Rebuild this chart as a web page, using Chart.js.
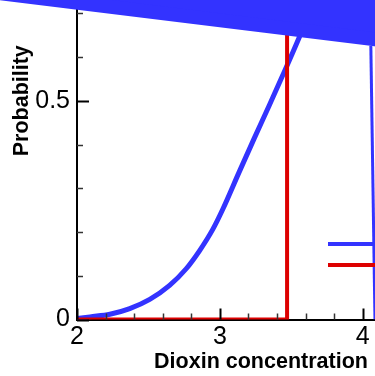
<!DOCTYPE html>
<html>
<head>
<meta charset="utf-8">
<script src="https://cdn.jsdelivr.net/npm/chart.js@4/dist/chart.umd.min.js"></script>
<style>
  html, body { margin: 0; padding: 0; background: #fff; overflow: hidden; width: 375px; height: 376px; }
  #wrap { position: absolute; left: 0; top: -140px; width: 460px; height: 516px; }
</style>
</head>
<body>
<div id="wrap"><canvas id="c" width="460" height="516"></canvas></div>
<script>
// Axis ticks and labels
const xMajorTicks = [2, 3, 4];
const xTickLabels = ['2', '3', '4'];
const xMinorStep = 0.2;
const yMajorTicks = [0, 0.5, 1];
const yTickLabels = ['0', '0.5', '1'];
const yMinorStep = 0.1;

// Cumulative probability of the dioxin concentration
const concentration = [2.0, 2.091, 2.230, 2.369, 2.509, 2.648, 2.764, 2.857, 2.950, 3.020, 3.136, 3.240, 3.345, 3.438, 3.554, 3.70, 3.90, 4.10, 4.35];
const probability   = [0.002, 0.006, 0.012, 0.025, 0.046, 0.078, 0.116, 0.157, 0.206, 0.252, 0.338, 0.414, 0.489, 0.557, 0.644, 0.76, 0.89, 0.96, 0.995];

// Threshold step
const thresholdX = [2, 3.47, 3.47];
const thresholdY = [0, 0, 1];

// Upper shaded band: lower edge, then the edge that drops to the axis
const bandX = [1.40, 4.10];
const bandY = [0.7325, 0.6239];
const dropX = [4.056, 4.085];
const dropY = [0.6256, 0];

const BLUE = '#3333ff';
const RED = '#dd0000';
const BAND_STROKE = 14;            // px, thick edge so the band reaches past the axis
const BAND_LIP = BAND_STROKE / 2 / 442;

const toPoints = (xs, ys) => xs.map((v, i) => ({ x: v, y: ys[i] }));
const labelFor = (majors, labels) => v => {
  const i = majors.findIndex(m => Math.abs(m - v) < 1e-6);
  return i >= 0 ? labels[i] : '';
};
const onStep = (v, step) => Math.abs(v / step - Math.round(v / step)) < 1e-6;

// Inward tick marks, long on labelled values
const tickMarks = {
  id: 'tickMarks',
  afterDatasetsDraw(chart) {
    const { ctx, chartArea: a, scales: { x, y } } = chart;
    ctx.save();
    x.ticks.forEach(t => {
      if (!onStep(t.value, xMinorStep)) return;
      const major = xMajorTicks.some(m => Math.abs(m - t.value) < 1e-6);
      const px = Math.round(x.getPixelForValue(t.value)) + 0.5;
      ctx.strokeStyle = major ? '#000' : '#333';
      ctx.lineWidth = major ? 2 : 1.5;
      ctx.beginPath();
      ctx.moveTo(px, a.bottom);
      ctx.lineTo(px, a.bottom - (major ? 11 : 6));
      ctx.stroke();
    });
    y.ticks.forEach(t => {
      if (!onStep(t.value, yMinorStep)) return;
      const major = yMajorTicks.some(m => Math.abs(m - t.value) < 1e-6);
      const py = Math.round(y.getPixelForValue(t.value)) + 0.5;
      ctx.strokeStyle = major ? '#000' : '#333';
      ctx.lineWidth = major ? 2 : 1.5;
      ctx.beginPath();
      ctx.moveTo(a.left, py);
      ctx.lineTo(a.left + (major ? 12 : 6), py);
      ctx.stroke();
    });
    ctx.restore();
  }
};

// Legend drawn inside the lower right of the plot
const legendLines = {
  id: 'legendLines',
  afterDatasetsDraw(chart) {
    const { ctx, chartArea: a } = chart;
    const items = chart.data.datasets
      .filter(d => d.legendRank !== undefined)
      .sort((p, q) => p.legendRank - q.legendRank);
    ctx.save();
    ctx.font = '18px "Liberation Sans", Arial, sans-serif';
    ctx.textBaseline = 'middle';
    items.forEach((d, i) => {
      const yy = a.bottom - 75.5 + i * 21;
      ctx.strokeStyle = d.borderColor;
      ctx.lineWidth = 4;
      ctx.beginPath();
      ctx.moveTo(a.left + 251, yy);
      ctx.lineTo(a.left + 306, yy);
      ctx.stroke();
      ctx.fillStyle = '#000';
      ctx.fillText(d.label, a.left + 314, yy);
    });
    ctx.restore();
  }
};

Chart.defaults.font.family = '"Liberation Sans", Arial, Helvetica, sans-serif';

new Chart(document.getElementById('c'), {
  type: 'line',
  data: {
    datasets: [
      {
        label: 'Band',
        data: toPoints(bandX, bandY.map(v => v + BAND_LIP)),
        borderColor: BLUE,
        backgroundColor: BLUE,
        borderWidth: BAND_STROKE,
        borderCapStyle: 'butt',
        fill: 'end',
        pointRadius: 0,
        clip: false
      },
      {
        label: 'Band edge',
        data: toPoints(dropX, dropY),
        borderColor: BLUE,
        borderWidth: 3,
        fill: false,
        pointRadius: 0
      },
      {
        label: 'Threshold',
        data: toPoints(thresholdX, thresholdY),
        borderColor: RED,
        borderWidth: 4,
        fill: false,
        pointRadius: 0,
        tension: 0,
        legendRank: 1
      },
      {
        label: 'CDF',
        data: toPoints(concentration, probability),
        borderColor: BLUE,
        borderWidth: 5,
        fill: false,
        pointRadius: 0,
        cubicInterpolationMode: 'monotone',
        legendRank: 0
      }
    ]
  },
  options: {
    responsive: false,
    animation: false,
    devicePixelRatio: 1,
    layout: { padding: { top: 17.5, right: 15, left: 0, bottom: 0 } },
    plugins: { legend: { display: false }, tooltip: { enabled: false } },
    scales: {
      x: {
        type: 'linear',
        min: 2,
        max: 4.575,
        grid: { display: true, drawOnChartArea: false, drawTicks: false },
        border: { display: true, color: '#000', width: 2 },
        ticks: {
          stepSize: xMinorStep, autoSkip: false, maxRotation: 0, padding: 3,
          color: '#000', font: { size: 25 },
          callback: labelFor(xMajorTicks, xTickLabels)
        },
        title: {
          display: true, text: 'Dioxin concentration', color: '#000',
          font: { size: 21.5, weight: 'bold' }, padding: { top: 0, bottom: 1 }
        },
        afterFit(s) { s.height = 56.5; }
      },
      y: {
        type: 'linear',
        min: 0,
        max: 1,
        grid: { display: true, drawOnChartArea: false, drawTicks: false },
        border: { display: true, color: '#000', width: 2 },
        ticks: {
          stepSize: yMinorStep, autoSkip: false, padding: 7,
          color: '#000', font: { size: 25 },
          callback: labelFor(yMajorTicks, yTickLabels)
        },
        title: {
          display: true, text: 'Probability', color: '#000',
          font: { size: 21.5, weight: 'bold' }, padding: { top: 9, bottom: 0 }
        },
        afterFit(s) { s.width = 77; }
      }
    }
  },
  plugins: [tickMarks, legendLines]
});
</script>
</body>
</html>
